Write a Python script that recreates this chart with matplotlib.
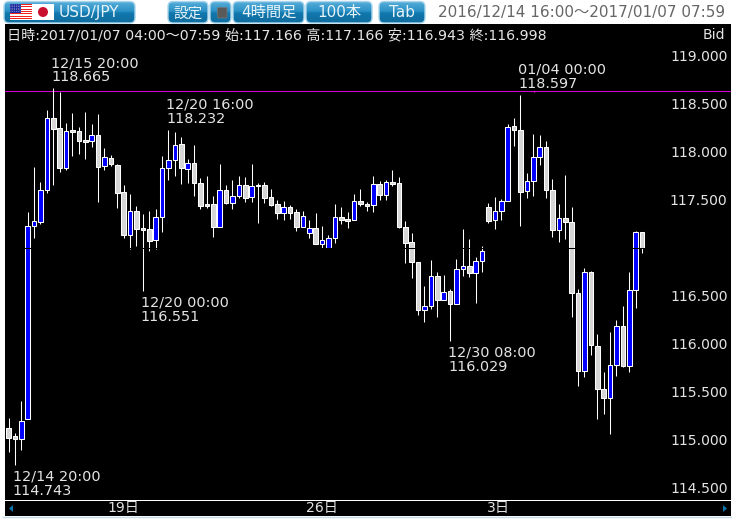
import matplotlib
matplotlib.use("Agg")
import matplotlib.pyplot as plt
import numpy as np
from matplotlib.patches import FancyBboxPatch, Rectangle, Circle, Polygon

plt.rcParams['font.family'] = ['DejaVu Sans', 'Noto Sans CJK JP']

# ---------- data: price of each 4-hour candle ----------
highs = [115.229,115.073,115.406,117.378,117.847,117.690,118.434,118.665,118.628,118.299,
         118.403,118.257,118.419,118.288,118.392,118.038,117.965,117.875,117.653,117.559,
         117.434,117.351,117.382,117.403,117.955,118.232,118.205,118.161,117.924,118.069,
         117.726,117.747,117.538,117.872,117.653,117.705,117.747,117.736,117.872,117.674,
         117.684,117.611,117.497,117.486,117.444,117.403,117.382,117.288,117.361,117.226,
         117.132,117.455,117.424,117.372,117.559,117.611,117.476,117.747,117.694,117.705,
         117.809,117.736,117.278,117.153,116.851,116.601,116.872,116.747,116.715,116.569,
         116.882,117.194,117.090,116.903,117.017,117.465,117.528,117.507,118.288,118.351,
         118.597,117.778,118.184,118.174,118.111,117.715,117.455,117.757,117.424,116.569,
         116.788,116.760,116.101,115.705,116.122,116.247,116.392,116.747,117.174,117.166]
lows  = [114.875,114.743,114.895,115.222,117.104,117.247,117.569,117.653,117.788,117.815,
         117.961,117.976,117.924,118.055,117.476,117.809,117.854,117.413,117.101,116.986,
         117.024,116.551,116.972,116.986,117.163,117.705,117.747,117.663,117.674,117.538,
         117.403,117.419,117.111,117.222,117.455,117.403,117.517,117.476,117.476,117.257,
         117.465,117.440,117.299,117.288,117.299,117.174,117.222,117.101,117.044,117.003,
         117.003,117.055,117.247,117.205,117.288,117.434,117.382,117.372,117.497,117.497,
         117.642,117.205,116.840,116.684,116.299,116.226,116.361,116.278,116.455,116.029,
         116.413,116.705,116.694,116.424,116.747,117.257,117.194,117.288,117.486,118.059,
         117.226,117.517,117.538,117.861,117.517,117.111,117.059,117.090,116.278,115.559,
         115.653,115.882,115.215,115.267,115.059,115.663,115.757,115.705,116.372,116.943]
opens = [115.122,115.041,115.013,115.222,117.226,117.274,117.607,118.351,118.247,117.836,
         118.226,118.215,118.122,118.111,118.174,117.851,117.934,117.861,117.580,117.138,
         117.382,117.208,117.194,117.086,117.319,117.830,117.913,118.080,117.826,117.882,
         117.674,117.455,117.455,117.222,117.601,117.465,117.538,117.653,117.528,117.656,
         117.653,117.528,117.455,117.367,117.424,117.372,117.222,117.153,117.205,117.044,
         117.003,117.101,117.319,117.299,117.288,117.486,117.455,117.444,117.663,117.549,
         117.684,117.674,117.215,117.059,116.851,116.351,116.392,116.705,116.455,116.549,
         116.413,116.778,116.809,116.736,116.861,117.424,117.288,117.382,117.486,118.267,
         118.226,117.590,117.694,117.944,118.049,117.601,117.184,117.309,117.267,116.528,
         115.722,116.747,115.976,115.528,115.434,115.778,116.184,115.767,116.559,117.166]
closes = [115.024,115.013,115.201,117.229,117.278,117.601,118.351,118.242,117.836,118.222,
         118.211,118.117,118.107,118.174,117.847,117.951,117.872,117.576,117.138,117.382,
         117.201,117.190,117.076,117.319,117.830,117.913,118.069,117.828,117.882,117.680,
         117.440,117.437,117.222,117.601,117.472,117.538,117.653,117.517,117.642,117.645,
         117.517,117.451,117.367,117.424,117.367,117.222,117.330,117.205,117.044,117.080,
         117.101,117.319,117.294,117.284,117.486,117.455,117.440,117.663,117.549,117.684,
         117.669,117.215,117.055,116.851,116.351,116.392,116.705,116.455,116.538,116.413,
         116.778,116.809,116.736,116.861,116.965,117.278,117.382,117.486,118.257,118.226,
         117.580,117.694,117.944,118.049,117.601,117.184,117.309,117.267,116.528,115.722,
         116.747,115.986,115.528,115.434,115.778,116.184,115.767,116.559,117.166,116.998]

price_ticks = [114.5, 115.0, 115.5, 116.0, 116.5, 117.5, 118.0, 118.5, 119.0]
price_labels = ['114.500','115.000','115.500','116.000','116.500','117.500','118.000','118.500','119.000']
day_ticks = [18, 49, 76.5]
day_labels = ['19日', '26日', '3日']
extreme_high_idx = [7, 25, 80]
extreme_high_time = ['12/15 20:00', '12/20 16:00', '01/04 00:00']
extreme_low_idx = [1, 21, 69]
extreme_low_time = ['12/14 20:00', '12/20 00:00', '12/30 08:00']
current_line = 118.63
hidden_grid = 117.0

W, H = 733, 519
fig = plt.figure(figsize=(W/100, H/100), dpi=100, facecolor='white')

def box(l, t, r, b):
    return [l/W, 1-b/H, (r-l)/W, (b-t)/H]

TXT = '#e4e4e4'
FS = 10.1
FA = 10.35

# ---------- main chart ----------
ax = fig.add_axes(box(5, 24, 731, 500), facecolor='black')
x = np.arange(len(highs))
o, c = np.array(opens), np.array(closes)
up = c > o
ax.vlines(x, lows, highs, color='white', lw=0.75, zorder=2)
ax.bar(x, np.maximum(np.abs(c-o), 0.004), bottom=np.minimum(o, c), width=0.72,
       color=np.where(up, '#0000ff', '#d6d6d6'), edgecolor='white', linewidth=0.75, zorder=3)
ax.axhline(hidden_grid, color='black', lw=0.75, zorder=4)
ax.axhline(current_line, color='#d800d8', lw=0.75, zorder=1)
ax.set_xlim(-0.547, 112.9)
ax.set_ylim(114.375, 119.333)
ax.set_xticks([])
ax.yaxis.tick_right()
ax.set_yticks(price_ticks)
ax.set_yticklabels(price_labels, ha='right', color=TXT, fontsize=FS)
ax.tick_params(axis='y', length=0, pad=-2.5)
for s in ax.spines.values():
    s.set_visible(False)

for i, t in zip(extreme_high_idx, extreme_high_time):
    ax.annotate(t, (i, highs[i]), xytext=(-2, 18), textcoords='offset pixels',
                color=TXT, fontsize=FA, va='bottom', ha='left')
    ax.annotate(f'{highs[i]:.3f}', (i, highs[i]), xytext=(-2, 4), textcoords='offset pixels',
                color=TXT, fontsize=FA, va='bottom', ha='left')
for i, t in zip(extreme_low_idx, extreme_low_time):
    ax.annotate(t, (i, lows[i]), xytext=(-2, -4.5), textcoords='offset pixels',
                color=TXT, fontsize=FA, va='top', ha='left')
    ax.annotate(f'{lows[i]:.3f}', (i, lows[i]), xytext=(-2, -19), textcoords='offset pixels',
                color=TXT, fontsize=FA, va='top', ha='left')

# ---------- date strip ----------
ax2 = fig.add_axes(box(5, 501, 731, 516), facecolor='black')
ax2.set_xlim(ax.get_xlim())
ax2.set_ylim(0, 1)
ax2.set_yticks([])
ax2.set_xticks(day_ticks)
ax2.set_xticklabels(day_labels, color=TXT, fontsize=FS, va='center')
ax2.tick_params(axis='x', length=0, pad=-5.5)
for s in ax2.spines.values():
    s.set_visible(False)

# ---------- interface chrome, in pixels ----------
ui = fig.add_axes([0, 0, 1, 1], facecolor='none')
ui.set_axis_off()
grad = np.array([0.0, 0.12, 0.45, 0.55, 1.0])
cols = np.array([[0x6c,0xb8,0xdd],[0x4b,0xa6,0xd4],[0x2c,0x92,0xc6],[0x10,0x78,0xae],[0x10,0x6c,0x9e]])/255
g = np.linspace(0, 1, 40)
img = np.stack([np.interp(g, grad, cols[:, k]) for k in range(3)], axis=1)[:, None, :]

def button(l, r, label=None, t=1.5, b=23, cx=None, fs=11.0):
    p = FancyBboxPatch((l+3, t+3), r-l-6, b-t-6, boxstyle='round,pad=3,rounding_size=5',
                       fc='none', ec='#a9d6ec', lw=1.0, zorder=5, transform=ui.transData)
    ui.add_patch(p)
    im = ui.imshow(img, extent=(l, r, b, t), aspect='auto', zorder=4, interpolation='bilinear')
    im.set_clip_path(p)
    if label:
        ui.text((l+r)/2 if cx is None else cx, (t+b)/2+0.5, label, color='#e8f3f8', fontsize=fs,
                ha='center', va='center', zorder=6)

button(4, 135, 'USD/JPY', cx=89)
button(168, 208, '設定', fs=10.5)
button(210, 231)
button(233, 304, '4時間足')
button(306, 372, '100本')
button(379, 425, 'Tab')
ui.add_patch(FancyBboxPatch((218, 8), 8.5, 9.5, boxstyle='round,pad=0.5,rounding_size=1',
                            fc='#5a5a5a', ec='#777777', lw=0.5, zorder=6))

# flags
for k in range(7):
    ui.add_patch(Rectangle((10, 4+k*2.3), 22, 1.15, fc='#ee2222', ec='none', zorder=6))
    ui.add_patch(Rectangle((10, 4+k*2.3+1.15), 22, 1.15, fc='white', ec='none', zorder=6))
ui.add_patch(Rectangle((10, 4), 11, 9.2, fc='#1c2a9c', ec='none', zorder=7))
for yy in np.arange(5, 13, 1.6):
    for xx in np.arange(11, 21, 1.8):
        ui.add_patch(Circle((xx, yy), 0.35, fc='white', ec='none', zorder=8))
ui.add_patch(Rectangle((32, 4), 22, 16, fc='white', ec='none', zorder=6))
ui.add_patch(Circle((43, 12), 5, fc='#c8102e', ec='none', zorder=7))

ui.text(725, 12.5, '2016/12/14 16:00〜2017/01/07 07:59', color='#666666', fontsize=11.0,
        ha='right', va='center', zorder=6)
ui.text(7, 35, '日時:2017/01/07 04:00〜07:59 始:117.166 高:117.166 安:116.943 終:116.998',
        color=TXT, fontsize=10.15, ha='left', va='center', zorder=6)
ui.text(725, 35, 'Bid', color=TXT, fontsize=FS, ha='right', va='center', zorder=6)

ui.add_patch(Rectangle((533.5, 91.5), 1.5, 1.5, fc='#c000c0', ec='none', zorder=6))
ui.add_patch(Polygon([[9, 508.5], [13, 505], [13, 512]], fc='#0b78b0', ec='none', zorder=6))
ui.add_patch(Polygon([[727, 508.5], [723, 505], [723, 512]], fc='#0b78b0', ec='none', zorder=6))
ui.plot([3, 731], [516.8, 516.8], color='#c5dbe6', lw=1.0, zorder=6)
ui.set_xlim(0, W)
ui.set_ylim(H, 0)

fig.savefig('out.png', dpi=100, facecolor='white')
